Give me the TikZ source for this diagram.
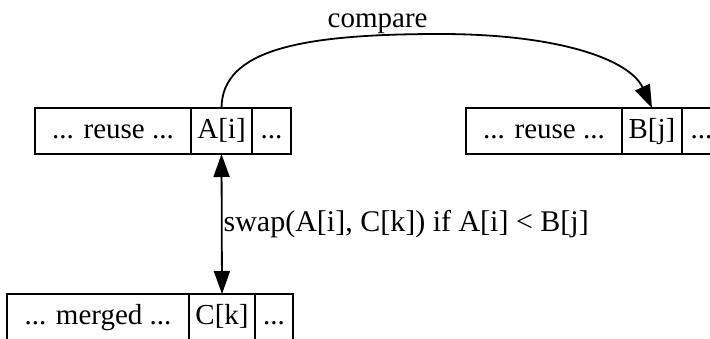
\documentclass[tikz,border=0pt]{standalone}
\usepackage{fontspec}
\setmainfont{Liberation Serif}
\usetikzlibrary{positioning,arrows.meta}
\begin{document}
\begin{tikzpicture}[x=1pt, y=-1pt,
		cell/.style={draw, line width=1.8pt, minimum height=46pt, inner sep=0pt, outer sep=0pt, text height=20pt, text depth=6pt, font=\fontsize{29}{34}\selectfont},
		link/.style={line width=1.8pt, -{Triangle[length=23pt, width=16pt]}}]
		\clip (0,0) rectangle (710,338);
		% three records, the right and bottom ones run off the page
		\node[cell, anchor=north west, minimum width=156pt] (reuseA) at (35,108) {... reuse ...};
		\node[cell, minimum width=61pt, right=0pt of reuseA] (ai) {A[i]};
		\node[cell, minimum width=39pt, right=0pt of ai] (dotsA) {...};
		
		\node[cell, anchor=north west, minimum width=156pt] (reuseB) at (466,108) {... reuse ...};
		\node[cell, minimum width=60pt, right=0pt of reuseB] (bj) {B[j]};
		\node[cell, minimum width=39pt, right=0pt of bj] (dotsB) {...};
		
		\node[cell, anchor=north west, minimum width=182pt] (merged) at (7,294) {... merged ...};
		\node[cell, minimum width=66pt, right=0pt of merged] (ck) {C[k]};
		\node[cell, minimum width=38pt, right=0pt of ck] (dotsC) {...};
		
		\draw[link] (ai.north) .. controls (222,50) and (300,34) .. (440,34) node[pos=0.84, anchor=base, yshift=8pt, inner sep=0pt, font=\fontsize{29}{34}\selectfont] (cmp) {compare} .. controls (560,34) and (630,60) .. (bj.north);
		\draw[link, {Triangle[length=23pt, width=16pt]}-{Triangle[length=23pt, width=16pt]}] (ai.south) -- (ck.north) node[midway, anchor=west, inner sep=0pt, xshift=1pt, font=\fontsize{30}{35}\selectfont] (swp) {swap(A[i], C[k]) if A[i] < B[j]};
	\end{tikzpicture}
\end{document}
